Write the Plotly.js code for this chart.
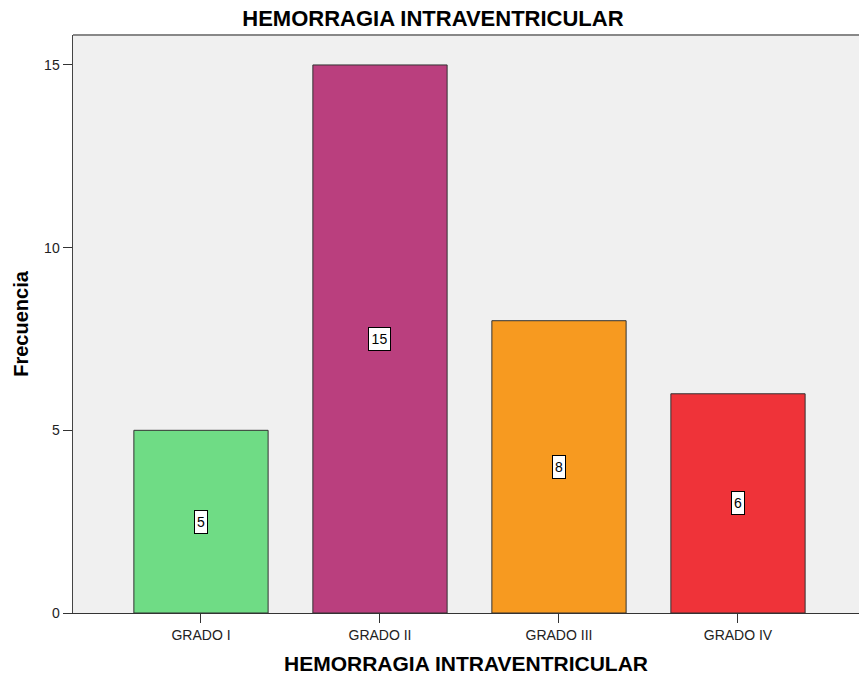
<!DOCTYPE html>
<html>
<head>
<meta charset="utf-8">
<script src="https://cdn.plot.ly/plotly-3.0.1.min.js"></script>
<style>html,body{margin:0;padding:0;background:#fff;}#chart{width:859px;height:681px;}</style>
</head>
<body>
<div id="chart"></div>
<script>
const categories = ["GRADO I", "GRADO II", "GRADO III", "GRADO IV"];
const frecuencia = [5, 15, 8, 6];
const barColors = ["#6FDC85", "#BA3F7E", "#F79A20", "#EF3339"];
const yTicks = [0, 5, 10, 15];

const FONT = "Liberation Sans, Arial, sans-serif";

const trace = {
  type: "bar",
  x: categories,
  y: frecuencia,
  width: 0.75,
  marker: {color: barColors, line: {color: "#333333", width: 1}},
  hoverinfo: "none"
};

const annotations = categories.map((c, i) => {
  const t = String(frecuencia[i]);
  return {
    x: c, y: frecuencia[i] / 2, xref: "x", yref: "y",
    text: t, showarrow: false,
    width: t.length * 9 - 1, height: 18,
    bgcolor: "#ffffff", bordercolor: "#000000", borderwidth: 1, borderpad: 2,
    font: {family: FONT, size: 14, color: "#000"}
  };
});

const layout = {
  width: 859, height: 681,
  margin: {l: 73, r: 0, t: 35, b: 68},
  paper_bgcolor: "#ffffff",
  plot_bgcolor: "#F0F0F0",
  showlegend: false,
  title: {text: "HEMORRAGIA INTRAVENTRICULAR", x: 0.504, xanchor: "center", y: 0.973, yanchor: "middle",
    font: {family: FONT, size: 22, color: "#000", weight: "bold"}},
  xaxis: {
    type: "category", range: [-0.715, 3.676],
    showline: true, linecolor: "#333", linewidth: 1,
    ticks: "outside", ticklen: 9, tickcolor: "#333",
    tickfont: {family: FONT, size: 14, color: "#222"},
    showgrid: false, zeroline: false,
    title: {text: "HEMORRAGIA INTRAVENTRICULAR", standoff: 14,
      font: {family: FONT, size: 21, color: "#000", weight: "bold"}}
  },
  yaxis: {
    range: [0, 15.82], tickvals: yTicks, ticktext: yTicks.map(String),
    showline: true, linecolor: "#444", linewidth: 1.5,
    ticks: "outside", ticklen: 9, tickcolor: "#333",
    tickfont: {family: FONT, size: 14, color: "#222"},
    showgrid: false, zeroline: false,
    title: {text: "Frecuencia", standoff: 10,
      font: {family: FONT, size: 20, color: "#000", weight: "bold"}}
  },
  shapes: [{type: "line", xref: "paper", yref: "paper", x0: 0, x1: 1, y0: 1, y1: 1,
    line: {color: "#888", width: 2}}],
  annotations: annotations
};

Plotly.newPlot("chart", [trace], layout, {displayModeBar: false, staticPlot: true});
</script>
</body>
</html>
